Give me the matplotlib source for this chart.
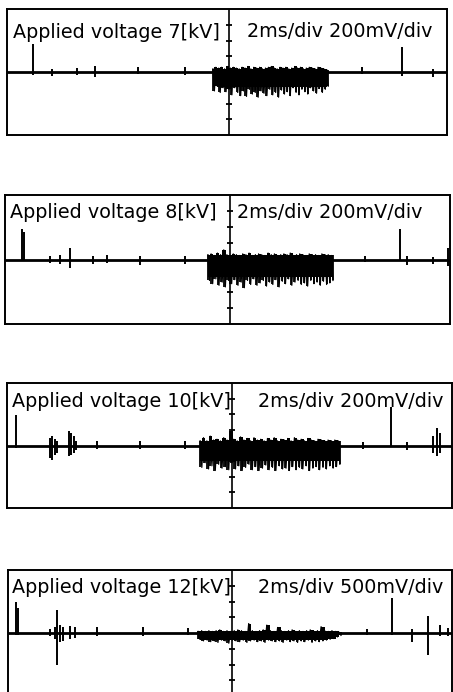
import numpy as np
import matplotlib
matplotlib.use("Agg")
import matplotlib.pyplot as plt

# ---------------- data (divisions: x 0..10, y -4..4) ----------------
titles = ["Applied voltage 7[kV]", "Applied voltage 8[kV]",
          "Applied voltage 10[kV]", "Applied voltage 12[kV]"]
scales = ["2ms/div 200mV/div", "2ms/div 200mV/div",
          "2ms/div 200mV/div", "2ms/div 500mV/div"]

# isolated spikes: time (div), upward extent, downward extent
p1_spike_t = [0.59, 1.02, 1.59, 2.00, 2.98, 4.05, 8.07, 8.98, 9.68]
p1_spike_up = [1.80, 0.20, 0.25, 0.35, 0.30, 0.30, 0.30, 1.56, 0.20]
p1_spike_dn = [-0.20, -0.25, -0.20, -0.30, -0.15, -0.20, -0.10, -0.25, -0.30]

p2_spike_t = [0.38, 0.42, 1.01, 1.24, 1.46, 1.98, 2.29, 3.03, 4.04, 8.09, 8.88, 9.03, 9.62, 9.96]
p2_spike_up = [1.90, 1.70, 0.20, 0.25, 0.70, 0.20, 0.30, 0.20, 0.20, 0.20, 1.90, 0.20, 0.15, 0.70]
p2_spike_dn = [-0.10, -0.10, -0.20, -0.30, -0.55, -0.30, -0.20, -0.35, -0.30, -0.15, -0.10, -0.35, -0.25, -0.40]

p3_spike_t = [0.20, 0.97, 1.01, 1.08, 1.12, 1.39, 1.44, 1.51, 1.55, 2.02, 2.99, 4.00,
              8.00, 8.63, 8.99, 9.57, 9.66, 9.73]
p3_spike_up = [1.95, 0.50, 0.60, 0.40, 0.30, 0.95, 0.80, 0.60, 0.30, 0.30, 0.30, 0.30,
               0.25, 2.45, 0.25, 0.60, 1.10, 0.80]
p3_spike_dn = [-0.15, -0.80, -0.95, -0.60, -0.50, -0.70, -0.60, -0.50, -0.30, -0.20, -0.20, -0.20,
               -0.20, -0.10, -0.30, -0.50, -0.70, -0.50]

p4_spike_t = [0.18, 0.23, 0.95, 1.06, 1.10, 1.17, 1.24, 1.40, 1.51, 2.00, 3.04, 4.05,
              8.09, 8.65, 9.10, 9.46, 9.73, 9.91]
p4_spike_up = [1.95, 1.60, 0.25, 0.40, 1.45, 0.50, 0.40, 0.45, 0.35, 0.35, 0.35, 0.30,
               0.25, 2.25, 0.25, 1.10, 0.50, 0.30]
p4_spike_dn = [-0.10, -0.10, -0.20, -0.40, -2.00, -0.60, -0.50, -0.40, -0.30, -0.20, -0.20, -0.10,
               -0.15, -0.10, -0.55, -1.40, -0.20, -0.20]

# discharge bursts: start/end (div), solid-core depth, top and bottom peaks
p1_burst = (4.68, 7.30)
p1_burst_core = -0.95
p1_burst_top = [0.2, 0.3, 0.25, 0.3, 0.2, 0.35, 0.25, 0.3, 0.25, 0.2, 0.3, 0.25, 0.35, 0.2, 0.3,
                0.25, 0.3, 0.2, 0.25, 0.3, 0.35, 0.25, 0.2, 0.3, 0.25, 0.3, 0.2, 0.25, 0.35, 0.25,
                0.3, 0.2, 0.25, 0.3, 0.25, 0.2, 0.3, 0.25, 0.2, 0.15]
p1_burst_bot = [-1.2, -0.9, -1.3, -1.0, -1.25, -1.1, -1.45, -1.0, -1.3, -1.5, -1.2, -1.55, -1.1,
                -1.4, -1.3, -1.6, -1.2, -1.35, -1.5, -1.1, -1.45, -1.3, -1.6, -1.15, -1.4, -1.25,
                -1.5, -1.0, -1.3, -1.45, -1.1, -1.25, -1.4, -1.0, -1.2, -1.35, -1.05, -1.3, -1.1, -0.9]

p2_burst = (4.56, 7.37)
p2_burst_core = -1.10
p2_burst_top = [0.3, 0.35, 0.25, 0.4, 0.3, 0.6, 0.3, 0.25, 0.35, 0.3, 0.25, 0.35, 0.3, 0.4, 0.25,
                0.3, 0.35, 0.3, 0.25, 0.4, 0.3, 0.35, 0.25, 0.3, 0.35, 0.3, 0.4, 0.25, 0.3, 0.35,
                0.3, 0.25, 0.35, 0.3, 0.3, 0.25, 0.35, 0.3, 0.3, 0.25]
p2_burst_bot = [-1.3, -1.5, -1.2, -1.6, -1.4, -1.7, -1.3, -1.5, -1.25, -1.6, -1.4, -1.75, -1.3,
                -1.55, -1.2, -1.6, -1.45, -1.3, -1.65, -1.4, -1.55, -1.25, -1.7, -1.35, -1.5, -1.2,
                -1.6, -1.4, -1.3, -1.55, -1.45, -1.65, -1.3, -1.5, -1.4, -1.6, -1.35, -1.55, -1.45, -1.3]

p3_burst = (4.34, 7.48)
p3_burst_core = -1.00
p3_burst_top = [0.3, 0.5, 0.3, 0.6, 0.35, 0.4, 0.3, 0.5, 0.35, 0.9, 0.4, 0.3, 0.55, 0.35, 0.45,
                0.3, 0.5, 0.35, 0.4, 0.3, 0.45, 0.35, 0.5, 0.3, 0.4, 0.35, 0.45, 0.3, 0.5, 0.35,
                0.4, 0.3, 0.45, 0.35, 0.3, 0.4, 0.35, 0.3, 0.35, 0.3, 0.35, 0.3]
p3_burst_bot = [-1.4, -1.1, -1.5, -1.3, -1.6, -1.2, -1.45, -1.35, -1.55, -1.1, -1.5, -1.3, -1.6,
                -1.4, -1.2, -1.55, -1.35, -1.6, -1.45, -1.25, -1.55, -1.4, -1.6, -1.3, -1.5, -1.45,
                -1.6, -1.35, -1.55, -1.4, -1.5, -1.3, -1.6, -1.45, -1.35, -1.55, -1.4, -1.5, -1.3,
                -1.45, -1.35, -1.2]

p4_burst = (4.28, 7.50)
p4_burst_core = -0.42
p4_burst_top = [0.1, 0.15, 0.1, 0.15, 0.1, 0.15, 0.2, 0.1, 0.15, 0.1, 0.15, 0.2, 0.15, 0.1, 0.6,
                0.15, 0.1, 0.15, 0.2, 0.5, 0.15, 0.1, 0.35, 0.15, 0.1, 0.15, 0.2, 0.1, 0.15, 0.1,
                0.15, 0.2, 0.1, 0.15, 0.4, 0.15, 0.1, 0.15, 0.1, 0.05]
p4_burst_bot = [-0.4, -0.5, -0.45, -0.55, -0.5, -0.6, -0.45, -0.5, -0.65, -0.45, -0.5, -0.55,
                -0.45, -0.6, -0.5, -0.45, -0.55, -0.5, -0.6, -0.45, -0.5, -0.55, -0.5, -0.6, -0.45,
                -0.55, -0.5, -0.6, -0.5, -0.55, -0.45, -0.6, -0.5, -0.55, -0.5, -0.45, -0.4, -0.35,
                -0.25, -0.15]

spikes = [(p1_spike_t, p1_spike_up, p1_spike_dn), (p2_spike_t, p2_spike_up, p2_spike_dn),
          (p3_spike_t, p3_spike_up, p3_spike_dn), (p4_spike_t, p4_spike_up, p4_spike_dn)]
bursts = [(p1_burst, p1_burst_core, p1_burst_top, p1_burst_bot),
          (p2_burst, p2_burst_core, p2_burst_top, p2_burst_bot),
          (p3_burst, p3_burst_core, p3_burst_top, p3_burst_bot),
          (p4_burst, p4_burst_core, p4_burst_top, p4_burst_bot)]

# ---------------- layout ----------------
W, H = 453, 692
boxes = [(7, 9, 447, 135), (5, 195, 450, 324), (7, 383, 452, 508), (8, 570, 452, 696)]
title_xy = [(0.14, 2.19), (0.11, 2.60), (0.11, 2.47), (0.09, 2.54)]
scale_xy = [(5.45, 2.25), (5.21, 2.60), (5.64, 2.47), (5.63, 2.54)]
center_x = 5.05

fig = plt.figure(figsize=(W / 100, H / 100), dpi=100)
fig.patch.set_facecolor("white")

for i in range(4):
    l, t, r, b = boxes[i]
    ax = fig.add_axes([l / W, 1 - b / H, (r - l) / W, (b - t) / H])
    ax.set_xlim(0, 10)
    ax.set_ylim(-4, 4)
    ax.set_xticks([])
    ax.set_yticks([])
    for s in ax.spines.values():
        s.set_linewidth(1.4)
        s.set_color("black")

    # graticule centre line with ticks
    ax.axvline(center_x, color="black", lw=1.2)
    ax.plot([center_x] * 6, [-3, -2, -1, 1, 2, 3], ls="none", marker="_",
            ms=5, mew=1.3, color="black")

    # baseline trace
    ax.hlines(0, 0, 10, color="black", lw=2.0)

    # spikes
    st, su, sd = spikes[i]
    ax.vlines(st, sd, su, color="black", lw=1.4)

    # burst: solid core, thin fringe spikes, zigzag peaks
    (x0, x1), core, top, bot = bursts[i]
    n = len(top)
    xc = np.linspace(x0, x1, n)
    core_arr = np.maximum(np.full(n, core), np.array(bot))
    ax.fill_between(xc, top, core_arr, step="mid", color="black", lw=0)
    ax.vlines(xc, bot, top, color="black", lw=1.3)
    xs = np.linspace(x0, x1, 2 * n)
    ys = np.empty(2 * n)
    ys[0::2] = top
    ys[1::2] = bot
    ax.plot(xs, ys, color="black", lw=0.9)

    # texts
    ax.text(title_xy[i][0], title_xy[i][1], titles[i], fontsize=13.8,
            family="DejaVu Sans", ha="left", va="baseline", color="black")
    ax.text(scale_xy[i][0], scale_xy[i][1], scales[i], fontsize=13.8,
            family="DejaVu Sans", ha="left", va="baseline", color="black")

fig.savefig("out.png", dpi=100, facecolor="white")
